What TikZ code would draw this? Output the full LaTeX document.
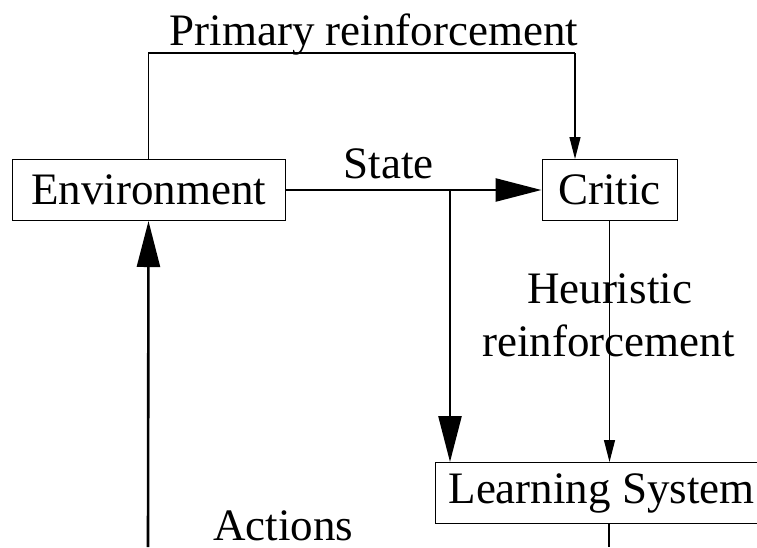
\documentclass[tikz,border=0pt]{standalone}
\usepackage{fontspec}
\setmainfont{Liberation Serif}
\usetikzlibrary{arrows.meta}

\tikzset{
	block/.style={draw, line width=1pt, inner sep=0pt, minimum height=61pt},
	lbl/.style={inner sep=0pt, anchor=base, text depth=0pt},
	thinarrow/.style={line width=1.2pt, -{Triangle[length=22pt,width=11pt]}},
	thickarrow/.style={line width=2.6pt, -{Triangle[length=46pt,width=23pt]}},
}

\begin{document}
\begin{tikzpicture}[x=1pt, y=-1pt, font=\fontsize{45pt}{54pt}\selectfont]
		\useasboundingbox (0,0) rectangle (757,547);
		
		% boxes
		\node[block, minimum width=273pt] (env) at (148.5,190) {Environment};
		\node[block, minimum width=135pt] (crit) at (609.5,190) {Critic};
		\node[block, anchor=north west, inner xsep=13pt] (ls) at (435,462) {Learning System};
		
		\coordinate (prim) at (575,53);
		\coordinate (split) at (450,190);
		\coordinate (actin) at (148,547);
		\coordinate (lsout) at (609,547);
		
		% connectors
		\draw[line width=1.2pt] (env.north) |- (prim);
		\draw[thinarrow] (prim) -- (prim |- crit.north);
		\draw[thickarrow] (env.east) -- (crit.west);
		\draw[thickarrow] (split) -- (split |- ls.north);
		\draw[thinarrow] (crit.south) -- (crit.south |- ls.north);
		\draw[thickarrow] (actin) -- (env.south);
		\draw[line width=2.6pt] (ls.south -| lsout) -- (lsout);
		
		% labels
		\node[lbl] (lprim) at (374,45) {Primary reinforcement};
		\node[lbl] (lstate) at (388.5,178) {State};
		\node[lbl] (lheu1) at (609.5,303) {Heuristic};
		\node[lbl] (lheu2) at (608.5,356) {reinforcement};
		\node[lbl] (lact) at (283.5,540) {Actions};
\end{tikzpicture}
\end{document}
